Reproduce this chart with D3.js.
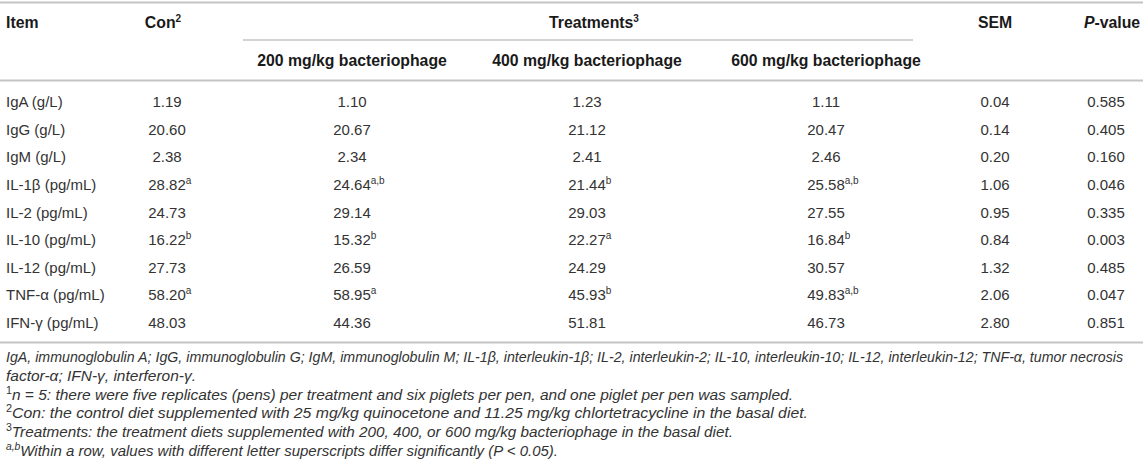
<!DOCTYPE html>
<html><head><meta charset="utf-8">
<script src="https://cdn.jsdelivr.net/npm/d3@7"></script>
<style>
html,body{margin:0;padding:0;background:#fff;}
svg{display:block;font-family:"Liberation Sans",Arial,Helvetica,sans-serif;}
</style></head>
<body>
<script>
// ---- data ----
const items = ["IgA (g/L)","IgG (g/L)","IgM (g/L)","IL-1β (pg/mL)","IL-2 (pg/mL)","IL-10 (pg/mL)","IL-12 (pg/mL)","TNF-α (pg/mL)","IFN-γ (pg/mL)"];
const conVals  = ["1.19","20.60","2.38","28.82","24.73","16.22","27.73","58.20","48.03"];
const conSup   = ["","","","a","","b","","a",""];
const t200Vals = ["1.10","20.67","2.34","24.64","29.14","15.32","26.59","58.95","44.36"];
const t200Sup  = ["","","","a,b","","b","","a",""];
const t400Vals = ["1.23","21.12","2.41","21.44","29.03","22.27","24.29","45.93","51.81"];
const t400Sup  = ["","","","b","","a","","b",""];
const t600Vals = ["1.11","20.47","2.46","25.58","27.55","16.84","30.57","49.83","46.73"];
const t600Sup  = ["","","","a,b","","b","","a,b",""];
const semVals  = ["0.04","0.14","0.20","1.06","0.95","0.84","1.32","2.06","2.80"];
const pVals    = ["0.585","0.405","0.160","0.046","0.335","0.003","0.485","0.047","0.851"];
const treatLabels = ["200 mg/kg bacteriophage","400 mg/kg bacteriophage","600 mg/kg bacteriophage"];
const footnotes = [
  [{t:"IgA, immunoglobulin A; IgG, immunoglobulin G; IgM, immunoglobulin M; IL-1β, interleukin-1β; IL-2, interleukin-2; IL-10, interleukin-10; IL-12, interleukin-12; TNF-α, tumor necrosis"}],
  [{t:"factor-α; IFN-γ, interferon-γ."}],
  [{t:"1",sup:true},{t:"n = 5: there were five replicates (pens) per treatment and six piglets per pen, and one piglet per pen was sampled."}],
  [{t:"2",sup:true},{t:"Con: the control diet supplemented with 25 mg/kg quinocetone and 11.25 mg/kg chlortetracycline in the basal diet."}],
  [{t:"3",sup:true},{t:"Treatments: the treatment diets supplemented with 200, 400, or 600 mg/kg bacteriophage in the basal diet."}],
  [{t:"a,b",sup:true},{t:"Within a row, values with different letter superscripts differ significantly (P < 0.05)."}]
];

// ---- layout ----
const W = 1143, H = 464;
const svg = d3.select("body").append("svg").attr("width", W).attr("height", H);

const colKeys = ["con","t200","t400","t600","sem","p"];
const colX = d3.scaleOrdinal().domain(colKeys).range([167, 352, 587, 826, 995, 1106]);
const rowY = d3.scalePoint().domain(items).range([107, 328]);
const footY = d3.scalePoint().domain(d3.range(footnotes.length)).range([362, 456]);
// widths and sizes of the footnote lines in the layout
const footWidths = [1117, 190, 787, 802, 727, 552];
const footSizes = [14, 14.5, 14.5, 14.5, 14.5, 14.5];

const ruleColor = "#c4c4c4";
const bodyColor = "#333";
const headColor = "#1a1a1a";
const fs = 15;
const headFs = 15.8;
const supFs = 10;

function rule(x1, x2, y, w) {
  svg.append("line").attr("x1", x1).attr("x2", x2).attr("y1", y).attr("y2", y)
    .attr("stroke", ruleColor).attr("stroke-width", w);
}
rule(0, W, 2.5, 2);
rule(243, 913, 40, 1.5);
rule(0, W, 80.5, 2);
rule(0, W, 342.5, 2);

// header
const head = svg.append("g").attr("font-weight", "bold").attr("fill", headColor).attr("font-size", headFs);
head.append("text").attr("x", 6).attr("y", 28).text("Item");
function supText(g, x, y, main, sup) {
  const t = g.append("text").attr("y", y).attr("text-anchor", "start");
  t.append("tspan").text(main);
  if (sup) t.append("tspan").attr("font-size", supFs).attr("dy", -6).text(sup);
  const w = t.node().getComputedTextLength();
  t.attr("x", x - w / 2);
  return t;
}
supText(head, colX("con") - 4, 28, "Con", "2");
supText(head, 594, 28, "Treatments", "3");
head.append("text").attr("x", colX("sem")).attr("y", 28).attr("text-anchor", "middle").text("SEM");
const pv = head.append("text").attr("x", colX("p") + 6).attr("y", 28).attr("text-anchor", "middle");
pv.append("tspan").attr("font-style", "italic").text("P");
pv.append("tspan").text("-value");
head.selectAll("text.tl").data(treatLabels).join("text").attr("class", "tl")
  .attr("x", (d, i) => colX(["t200","t400","t600"][i])).attr("y", 66)
  .attr("text-anchor", "middle").text(d => d);

// body
const body = svg.append("g").attr("fill", bodyColor).attr("font-size", fs);
body.selectAll("text.item").data(items).join("text").attr("class", "item")
  .attr("x", 6).attr("y", d => rowY(d)).text(d => d);

const cols = [
  ["con", conVals, conSup], ["t200", t200Vals, t200Sup], ["t400", t400Vals, t400Sup],
  ["t600", t600Vals, t600Sup], ["sem", semVals, null], ["p", pVals, null]
];
cols.forEach(([k, vals, sups]) => {
  vals.forEach((v, i) => {
    const sup = sups ? sups[i] : "";
    const t = body.append("text").attr("y", rowY(items[i])).attr("x", colX(k)).attr("text-anchor", "start");
    t.append("tspan").text(v);
    if (sup) t.append("tspan").attr("font-size", supFs).attr("dy", -6).text(sup);
    const num = t.select("tspan").node().getComputedTextLength();
    t.attr("x", colX(k) - num / 2);
  });
});

// footnotes
const foot = svg.append("g").attr("fill", bodyColor).attr("font-style", "italic");
footnotes.forEach((parts, i) => {
  const t = foot.append("text").attr("x", 6).attr("y", footY(i)).attr("font-size", footSizes[i])
    .attr("textLength", footWidths[i]).attr("lengthAdjust", "spacingAndGlyphs");
  parts.forEach((p, j) => {
    const s = t.append("tspan").text(p.t);
    if (p.sup) { s.attr("font-size", supFs).attr("dy", -6).attr("font-style", p.t === "a,b" ? "italic" : "normal"); }
    else if (j > 0 && parts[j - 1].sup) s.attr("dy", 6);
  });
});
</script>
</body></html>
